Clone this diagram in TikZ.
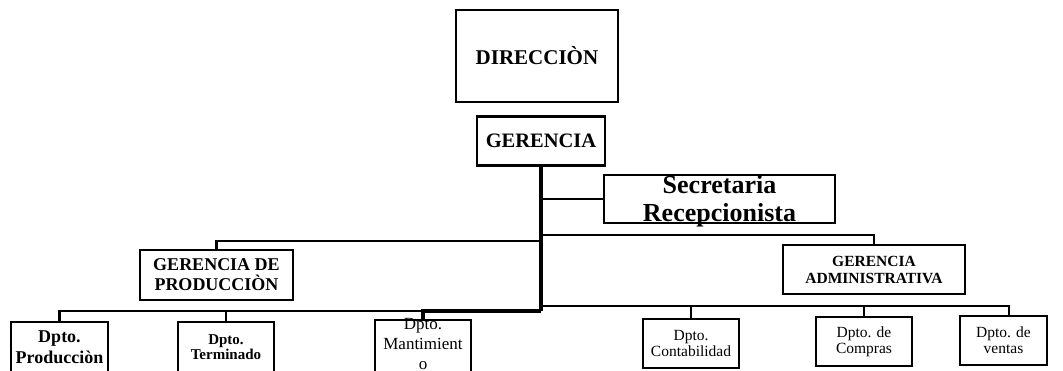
\documentclass[tikz,border=0pt]{standalone}
\usepackage{fontspec}
\setmainfont{Liberation Serif}
\usetikzlibrary{positioning, calc}

\begin{document}
\begin{tikzpicture}[
    x=1pt, y=-1pt,
    caja/.style={draw, line width=2.7pt, align=center, inner sep=0pt},
    texto/.style={align=center, inner sep=0pt},
    enlace/.style={line width=2.2pt},
    tronco/.style={line width=3.2pt},
  ]
  \useasboundingbox (0,0) rectangle (1063,370);

  % cabeza
  \node[caja, minimum width=162, minimum height=92,
        font=\fontsize{21}{22}\selectfont\bfseries] (dir) at (537,56) {DIRECCIÒN};
  \node[caja, minimum width=128, minimum height=49,
        font=\fontsize{20.5}{22}\selectfont\bfseries] (ger) at (541,141) {GERENCIA};

  \node[caja, minimum width=231, minimum height=48] (sec) at (719.5,199) {};
  \node[texto, font=\fontsize{26}{28}\selectfont\bfseries] (sectxt) at (719.5,201)
    {Secretaria\\Recepcionista};

  \node[caja, minimum width=153, minimum height=50,
        font=\fontsize{18}{20}\selectfont\bfseries] (gp) at (216.5,275) {GERENCIA DE\\PRODUCCIÒN};
  \node[caja, minimum width=182, minimum height=49,
        font=\fontsize{15.5}{17}\selectfont\bfseries] (ga) at (874,269.5) {GERENCIA\\ADMINISTRATIVA};

  % departamentos
  \node[caja, minimum width=97, minimum height=50,
        font=\fontsize{18}{21}\selectfont\bfseries] (dp) at (59.5,347) {Dpto.\\Producciòn};
  \node[caja, minimum width=96, minimum height=50,
        font=\fontsize{15}{15.5}\selectfont\bfseries] (dt) at (226,347) {Dpto.\\Terminado};
  \node[caja, minimum width=96, minimum height=52] (dm) at (423,346) {};
  \node[texto, font=\fontsize{17}{20}\selectfont] (dmtxt) at (423,344.5) {Dpto.\\Mantimient\\o};
  \node[caja, minimum width=96, minimum height=49,
        font=\fontsize{15.5}{16}\selectfont] (dc) at (691,343.5) {Dpto.\\Contabilidad};
  \node[caja, minimum width=96, minimum height=49,
        font=\fontsize{15.5}{16}\selectfont] (dco) at (864,341.5) {Dpto. de\\Compras};
  \node[caja, minimum width=87, minimum height=49,
        font=\fontsize{15.5}{16}\selectfont] (dv) at (1003.5,340.5) {Dpto. de\\ventas};

  \coordinate (bl) at (541,311);
  \coordinate (br) at (541,306);

  \draw[tronco] (ger.south) -- (bl);
  \draw[enlace] (ger.south |- sec.west) -- (sec.west);
  \draw[enlace] (ger.south |- 0,241) -| (gp.north);
  \draw[enlace] (ger.south |- 0,235) -| (ga.north);

  \draw[enlace] (bl) -| (dp.north);
  \draw[enlace] (bl) -| (dt.north);
  \draw[tronco] (bl) -| (dm.north);
  \draw[enlace] (br) -| (dc.north);
  \draw[enlace] (br) -| (dco.north);
  \draw[enlace] (br) -| ([xshift=5.5pt]dv.north);
\end{tikzpicture}
\end{document}
